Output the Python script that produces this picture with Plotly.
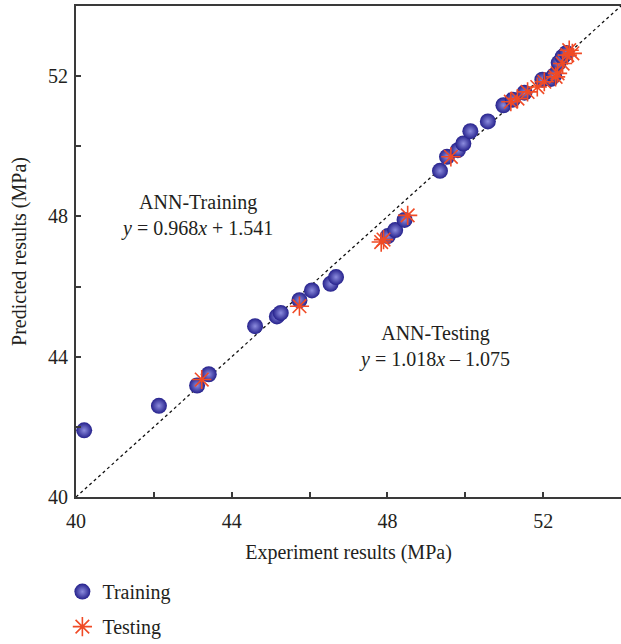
import plotly.graph_objects as go

# Training data (experiment, predicted)
train_x = [40.21, 42.13, 43.11, 43.41, 44.60, 45.16, 45.26, 45.74, 46.06, 46.54, 46.68,
           48.01, 48.20, 48.44, 49.35, 49.53, 49.81, 49.95, 50.13, 50.58, 50.98,
           51.22, 51.52, 51.98, 52.20, 52.28, 52.40, 52.50, 52.60]
train_y = [41.90, 42.60, 43.18, 43.50, 44.87, 45.15, 45.25, 45.61, 45.89, 46.08, 46.27,
           47.44, 47.61, 47.90, 49.30, 49.70, 49.89, 50.08, 50.43, 50.71, 51.17,
           51.33, 51.53, 51.90, 51.92, 52.02, 52.38, 52.55, 52.66]

# Testing data
test_x = [43.23, 45.74, 47.84, 47.90, 48.52, 49.63, 51.17, 51.34, 51.60, 51.85,
          52.03, 52.32, 52.37, 52.50, 52.62, 52.75, 52.67]
test_y = [43.35, 45.44, 47.27, 47.34, 48.03, 49.70, 51.27, 51.36, 51.55, 51.69,
          51.84, 51.98, 52.08, 52.36, 52.60, 52.65, 52.74]

diag = [40, 54]
tick_vals = [40, 42, 44, 46, 48, 50, 52]
tick_text = ["40", "", "44", "", "48", "", "52"]

FONT = "Liberation Serif"
TXT = "#231f20"
FS = 20

fig = go.Figure()
fig.add_trace(go.Scatter(x=diag, y=diag, mode="lines", showlegend=False,
                         line=dict(color="#111111", width=1.3, dash="3px,3px"),
                         hoverinfo="skip"))
fig.add_trace(go.Scatter(x=train_x, y=train_y, mode="markers", name="Training",
                         legendgroup="a",
                         marker=dict(size=16, color="#25218c",
                                     gradient=dict(type="radial", color="#8c8cde"),
                                     line=dict(width=0))))
fig.add_trace(go.Scatter(x=test_x, y=test_y, mode="markers", name="Testing",
                         legendgroup="b",
                         marker=dict(symbol="asterisk-open", size=16, color="#f04a25",
                                     line=dict(width=1.6, color="#f04a25"))))

fig.add_annotation(x=43.1, y=48.03, xref="x", yref="y", showarrow=False,
                   text="ANN-Training<br><i>y</i> = 0.968<i>x</i> + 1.541",
                   font=dict(family=FONT, size=FS, color=TXT), align="center")
fig.add_annotation(x=49.2, y=44.28, xref="x", yref="y", showarrow=False,
                   text="ANN-Testing<br><i>y</i> = 1.018<i>x</i> \u2013 1.075",
                   font=dict(family=FONT, size=FS, color=TXT), align="center")

axis_common = dict(showgrid=False, zeroline=False, ticks="inside", ticklen=5,
                   tickwidth=1.5, tickcolor="#3a3a3a", linecolor="#3a3a3a",
                   linewidth=2, showline=True, automargin=False,
                   tickfont=dict(family=FONT, size=FS, color=TXT),
                   tickvals=tick_vals, ticktext=tick_text)

fig.update_xaxes(range=[40, 54], mirror=True, ticklabelstandoff=5, **axis_common,
                 title=dict(text="Experiment results (MPa)", standoff=14,
                            font=dict(family=FONT, size=FS, color=TXT)))
fig.update_yaxes(range=[40, 54], ticklabelstandoff=2, **axis_common,
                 title=dict(text="Predicted results (MPa)", standoff=16,
                            font=dict(family=FONT, size=FS, color=TXT)))

fig.update_layout(width=621, height=644,
                  margin=dict(l=76, r=0, t=6, b=147, autoexpand=False),
                  plot_bgcolor="white", paper_bgcolor="white",
                  legend=dict(x=-0.025, y=-0.153, xanchor="left", yanchor="top",
                              font=dict(family=FONT, size=FS, color=TXT),
                              tracegroupgap=6, bgcolor="rgba(0,0,0,0)"))

fig.write_html("out.html")
